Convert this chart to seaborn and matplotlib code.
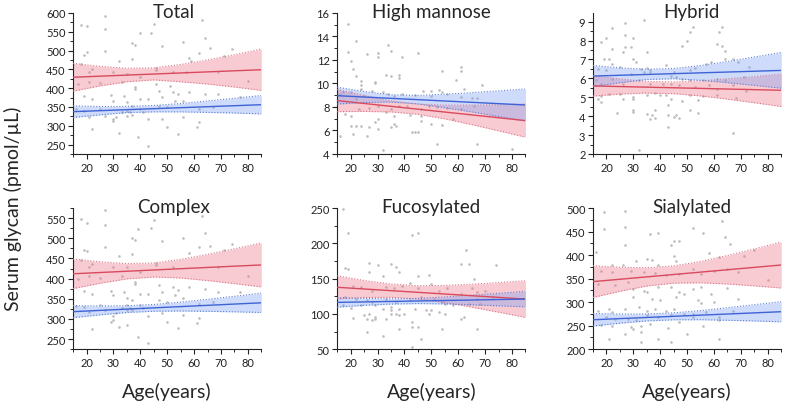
import numpy as np
import pandas as pd
import matplotlib
matplotlib.use("Agg")
import matplotlib.pyplot as plt
from matplotlib.ticker import MultipleLocator
import seaborn as sns

# =========================================================
# DATA
# =========================================================

# ages at which the fitted lines and confidence bands were read
LINE_AGES = [15, 85]
BAND_AGES = [15, 25, 35, 45, 55, 65, 75, 85]

# ---------------- Total ----------------
TOTAL_AGE = [18, 20, 27, 27, 45, 44, 63, 40, 37, 38,
             48, 56, 64, 27, 20, 19, 37, 32, 58, 62,
             66, 74, 59, 71, 18, 22, 21, 30, 35, 40,
             46, 46, 52, 57, 69, 80, 17, 21, 25, 33,
             38, 38, 46, 51, 47, 52, 54, 58, 64, 69,
             77, 19, 22, 29, 30, 34, 35, 37, 40, 43,
             48, 53, 56, 47, 50, 62, 67, 16, 19, 21,
             25, 27, 30, 31, 30, 33, 35, 35, 36, 37,
             40, 41, 43, 48, 50, 56, 62, 61, 22, 32,
             39, 43, 54]
TOTAL_VAL = [568, 565, 591, 556, 571, 547, 580, 547, 520, 515,
             513, 522, 533, 499, 495, 488, 478, 471, 479, 493,
             506, 504, 471, 486, 464, 451, 442, 442, 438, 429,
             453, 447, 442, 442, 442, 420, 411, 417, 414, 417,
             402, 398, 411, 407, 393, 389, 384, 389, 384, 384,
             376, 378, 371, 382, 367, 378, 362, 353, 371, 371,
             376, 367, 367, 353, 349, 345, 349, 345, 340, 322,
             345, 327, 318, 322, 314, 336, 340, 327, 336, 329,
             345, 336, 318, 318, 296, 322, 309, 296, 291, 281,
             269, 247, 278]
TOTAL_RED_LINE = [429, 449]
TOTAL_RED_LO = [392, 406, 417, 422, 417, 411, 403, 394]
TOTAL_RED_HI = [466, 458, 453, 454, 463, 475, 489, 504]
TOTAL_BLUE_LINE = [337.5, 356]
TOTAL_BLUE_LO = [322, 329, 335, 337, 337, 335.5, 334, 331.5]
TOTAL_BLUE_HI = [353, 351, 351.5, 354, 359, 366, 373, 380.5]

# ---------------- High mannose ----------------
HM_AGE = [19, 22, 19, 20, 34, 35, 26, 30, 30, 39,
          45, 21, 22, 24, 24, 29, 29, 33, 35, 38,
          38, 54, 61, 61, 59, 69, 16, 17, 20, 24,
          28, 32, 34, 36, 39, 44, 47, 50, 53, 54,
          62, 65, 67, 61, 50, 56, 22, 25, 18, 20,
          23, 27, 30, 35, 38, 41, 46, 49, 52, 56,
          61, 66, 33, 36, 42, 46, 46, 29, 30, 36,
          37, 20, 22, 24, 27, 35, 30, 21, 26, 44,
          43, 45, 50, 54, 58, 16, 52, 67, 80, 32]
HM_VAL = [15.06, 13.65, 12.65, 11.94, 13.28, 12.79, 12.51, 12.57, 12.28, 12.23,
          12.57, 11.23, 10.67, 10.24, 9.87, 10.16, 10.04, 10.72, 10.67, 10.72,
          10.44, 11.09, 11.38, 11.09, 10.30, 9.87, 9.11, 9.25, 9.30, 9.53,
          9.39, 9.25, 9.11, 8.91, 9.11, 9.02, 9.36, 9.39, 9.45, 9.25,
          9.53, 8.74, 8.74, 8.82, 8.96, 9.11, 8.68, 8.91, 7.40, 7.26,
          7.83, 7.89, 8.11, 7.83, 8.06, 8.11, 7.83, 8.11, 7.97, 7.89,
          7.83, 8.06, 7.55, 7.26, 7.32, 7.26, 6.84, 6.70, 6.98, 6.55,
          6.41, 6.41, 6.41, 6.41, 6.27, 6.27, 6.13, 5.70, 5.56, 5.90,
          5.84, 5.90, 6.55, 6.47, 6.98, 5.56, 4.85, 4.85, 4.43, 4.37]
HM_RED_LINE = [8.54, 6.84]
HM_RED_LO = [7.60, 7.62, 7.58, 7.38, 6.99, 6.50, 5.97, 5.43]
HM_RED_HI = [9.48, 8.98, 8.52, 8.24, 8.15, 8.16, 8.19, 8.25]
HM_BLUE_LINE = [8.96, 8.17]
HM_BLUE_LO = [8.25, 8.38, 8.42, 8.26, 7.94, 7.58, 7.19, 6.81]
HM_BLUE_HI = [9.68, 9.32, 9.04, 8.98, 9.08, 9.22, 9.37, 9.53]

# ---------------- Hybrid ----------------
HYB_AGE = [27, 34, 22, 27, 20, 18, 30, 52, 51, 50,
           48, 62, 63, 61, 63, 64, 22, 27, 29, 26,
           35, 19, 21, 22, 30, 31, 35, 36, 42, 45,
           44, 51, 53, 57, 59, 64, 67, 69, 73, 17,
           20, 25, 29, 33, 34, 36, 46, 48, 51, 56,
           61, 64, 71, 16, 18, 22, 26, 32, 36, 41,
           44, 47, 53, 58, 61, 67, 72, 18, 21, 25,
           30, 35, 38, 40, 42, 51, 56, 61, 18, 17,
           26, 30, 44, 48, 54, 68, 24, 30, 30, 35,
           38, 37, 38, 43, 43, 45, 46, 47, 51, 54,
           36, 43, 67, 32]
HYB_VAL = [8.93, 9.10, 8.65, 8.30, 8.12, 7.91, 8.12, 8.70, 8.44, 8.00,
           7.70, 8.44, 8.70, 7.82, 7.70, 7.47, 7.53, 7.65, 7.65, 7.42,
           7.39, 7.04, 7.04, 6.77, 7.00, 6.89, 6.54, 6.33, 6.72, 6.33,
           6.12, 6.42, 6.54, 6.77, 6.89, 7.04, 7.04, 6.86, 6.60, 6.51,
           6.42, 6.60, 6.25, 6.51, 6.33, 6.42, 6.07, 5.98, 5.89, 5.89,
           5.98, 5.89, 6.07, 5.89, 5.72, 5.98, 5.72, 5.89, 5.72, 5.72,
           5.72, 5.63, 5.54, 5.63, 5.46, 5.63, 5.32, 5.07, 5.19, 5.19,
           5.02, 5.14, 5.25, 5.14, 5.14, 5.14, 5.07, 5.11, 4.75, 4.93,
           4.89, 4.93, 4.89, 4.79, 4.84, 4.96, 4.19, 4.32, 4.23, 4.14,
           4.32, 4.05, 3.88, 4.61, 4.05, 3.96, 4.05, 3.88, 4.32, 4.19,
           3.84, 3.44, 3.09, 2.21]
HYB_RED_LINE = [5.60, 5.37]
HYB_RED_LO = [5.06, 5.17, 5.22, 5.19, 5.07, 4.90, 4.71, 4.51]
HYB_RED_HI = [6.14, 5.97, 5.84, 5.81, 5.87, 5.98, 6.09, 6.23]
HYB_BLUE_LINE = [6.12, 6.42]
HYB_BLUE_LO = [5.56, 5.77, 5.94, 5.98, 5.90, 5.77, 5.63, 5.48]
HYB_BLUE_HI = [6.68, 6.55, 6.48, 6.52, 6.68, 6.89, 7.13, 7.37]

# ---------------- Complex ----------------
CPX_AGE = [18, 20, 27, 27, 45, 44, 63, 39, 37, 38,
           48, 56, 64, 27, 19, 20, 37, 32, 58, 62,
           66, 74, 71, 18, 22, 21, 30, 35, 40, 46,
           46, 52, 69, 80, 17, 21, 25, 33, 38, 38,
           47, 52, 54, 58, 64, 69, 77, 19, 22, 29,
           30, 34, 35, 37, 40, 43, 48, 53, 56, 47,
           50, 62, 67, 16, 19, 21, 25, 27, 30, 31,
           30, 33, 35, 35, 36, 37, 40, 41, 43, 48,
           50, 56, 62, 61, 22, 32, 39, 43, 54, 29,
           35]
CPX_VAL = [548, 538, 570, 534, 545, 525, 556, 523, 502, 496,
           493, 502, 512, 479, 470, 468, 461, 455, 463, 478,
           482, 486, 470, 447, 437, 429, 429, 429, 416, 438,
           433, 429, 429, 406, 400, 406, 402, 406, 392, 386,
           384, 379, 373, 379, 375, 367, 367, 370, 363, 370,
           359, 367, 353, 347, 363, 363, 367, 359, 351, 347,
           343, 338, 343, 332, 330, 318, 334, 322, 306, 314,
           297, 326, 334, 322, 326, 322, 334, 326, 306, 314,
           293, 310, 302, 289, 274, 279, 256, 240, 277, 293,
           285]
CPX_RED_LINE = [412, 434]
CPX_RED_LO = [375.3, 388.5, 399.3, 404.0, 401.5, 395.2, 387.7, 379.5]
CPX_RED_HI = [448.7, 441.7, 437.3, 438.8, 447.7, 460.2, 474.1, 488.5]
CPX_BLUE_LINE = [318, 340]
CPX_BLUE_LO = [303.1, 310.1, 315.9, 319.0, 319.6, 318.8, 317.6, 316.0]
CPX_BLUE_HI = [332.9, 332.1, 332.7, 335.8, 341.6, 348.6, 356.2, 364.0]

# ---------------- Fucosylated ----------------
FUC_AGE = [17, 19, 43, 45, 18, 19, 27, 30, 35, 37,
           27, 32, 38, 42, 45, 49, 63, 61, 64, 74,
           66, 21, 24, 28, 33, 36, 39, 45, 50, 53,
           56, 61, 65, 67, 70, 18, 22, 26, 28, 33,
           37, 42, 46, 51, 54, 55, 67, 73, 17, 20,
           24, 29, 32, 35, 38, 44, 48, 53, 58, 64,
           68, 25, 26, 27, 29, 33, 35, 35, 37, 38,
           40, 49, 50, 55, 61, 62, 21, 28, 29, 43,
           45, 38, 26, 43, 54, 67, 32, 46, 43]
FUC_VAL = [249, 215, 212, 214, 165, 164, 172, 169, 171, 166,
           159, 154, 159, 144, 154, 155, 191, 171, 171, 169,
           149, 140, 138, 133, 138, 136, 140, 137, 143, 133,
           136, 128, 137, 131, 133, 124, 121, 119, 117, 121,
           117, 119, 124, 121, 117, 114, 121, 124, 112, 108,
           112, 112, 107, 110, 107, 107, 105, 102, 112, 114,
           114, 98, 93, 100, 95, 93, 105, 100, 100, 98,
           100, 100, 105, 100, 93, 95, 94, 91, 93, 88,
           81, 79, 75, 81, 79, 78, 69, 65, 53]
FUC_RED_LINE = [137.7, 121]
FUC_RED_LO = [121.4, 123.2, 123.5, 121.1, 116.1, 109.5, 102.4, 95.0]
FUC_RED_HI = [154.0, 147.4, 142.3, 139.9, 140.3, 142.1, 144.4, 147.0]
FUC_BLUE_LINE = [116.3, 121]
FUC_BLUE_LO = [109.5, 112.1, 113.9, 114.6, 114.1, 112.9, 111.5, 110.0]
FUC_BLUE_HI = [123.1, 121.9, 121.3, 122.0, 123.9, 126.5, 129.1, 132.0]

# ---------------- Sialylated ----------------
SIA_AGE = [19, 27, 19, 27, 36, 39, 52, 56, 63, 64,
           27, 45, 47, 44, 66, 16, 22, 26, 31, 35,
           37, 39, 45, 46, 58, 62, 71, 75, 80, 18,
           22, 29, 34, 38, 42, 47, 52, 55, 60, 65,
           69, 17, 23, 28, 30, 34, 35, 39, 44, 47,
           52, 55, 59, 65, 69, 30, 37, 40, 46, 49,
           54, 55, 60, 17, 21, 22, 27, 32, 35, 38,
           42, 45, 49, 52, 57, 62, 67, 20, 23, 28,
           31, 35, 39, 44, 52, 18, 22, 29, 30, 33,
           36, 43, 47, 56, 62, 21, 27, 33, 39, 44,
           50, 62, 33]
SIA_VAL = [491, 493, 456, 460, 445, 448, 457, 448, 472, 438,
           421, 429, 431, 421, 424, 406, 379, 378, 387, 392,
           389, 378, 399, 387, 405, 396, 398, 410, 348, 367,
           364, 367, 364, 362, 357, 360, 371, 360, 367, 371,
           364, 339, 336, 343, 328, 323, 321, 332, 332, 321,
           328, 332, 318, 330, 307, 311, 307, 304, 311, 318,
           304, 299, 300, 282, 286, 279, 286, 289, 282, 286,
           282, 286, 275, 275, 279, 268, 282, 268, 265, 265,
           261, 272, 268, 272, 268, 252, 250, 247, 243, 249,
           254, 245, 258, 250, 261, 221, 233, 236, 222, 215,
           233, 222, 215]
SIA_RED_LINE = [343.6, 379]
SIA_RED_LO = [309.8, 323.2, 334.2, 340.5, 341.1, 338.6, 334.6, 330.0]
SIA_RED_HI = [377.4, 374.2, 373.2, 377.1, 386.5, 399.2, 413.2, 428.0]
SIA_BLUE_LINE = [262.5, 279.6]
SIA_BLUE_LO = [249.2, 255.2, 260.0, 262.4, 262.6, 261.4, 259.9, 258.1]
SIA_BLUE_HI = [275.8, 274.6, 274.8, 277.2, 282.0, 288.0, 294.5, 301.1]

TITLES = ["Total", "High mannose", "Hybrid", "Complex", "Fucosylated", "Sialylated"]

# =========================================================
# PANEL SETUP
# =========================================================

panels = [
    (TOTAL_AGE, TOTAL_VAL, TOTAL_RED_LINE, TOTAL_RED_LO, TOTAL_RED_HI,
     TOTAL_BLUE_LINE, TOTAL_BLUE_LO, TOTAL_BLUE_HI, (225, 600), 50, 25),
    (HM_AGE, HM_VAL, HM_RED_LINE, HM_RED_LO, HM_RED_HI,
     HM_BLUE_LINE, HM_BLUE_LO, HM_BLUE_HI, (4, 16), 2, 1),
    (HYB_AGE, HYB_VAL, HYB_RED_LINE, HYB_RED_LO, HYB_RED_HI,
     HYB_BLUE_LINE, HYB_BLUE_LO, HYB_BLUE_HI, (2, 9.46), 1, 0.5),
    (CPX_AGE, CPX_VAL, CPX_RED_LINE, CPX_RED_LO, CPX_RED_HI,
     CPX_BLUE_LINE, CPX_BLUE_LO, CPX_BLUE_HI, (225, 575), 50, 25),
    (FUC_AGE, FUC_VAL, FUC_RED_LINE, FUC_RED_LO, FUC_RED_HI,
     FUC_BLUE_LINE, FUC_BLUE_LO, FUC_BLUE_HI, (50, 250), 50, 25),
    (SIA_AGE, SIA_VAL, SIA_RED_LINE, SIA_RED_LO, SIA_RED_HI,
     SIA_BLUE_LINE, SIA_BLUE_LO, SIA_BLUE_HI, (200, 500), 50, 25),
]

# axes boxes in figure fractions
COL_LEFT = [0.093, 0.429, 0.7545]
COL_WIDTH = 0.2395
ROW_BOTTOM = [0.622, 0.146]
ROW_HEIGHT = 0.344
TITLE_X = [0.535, 0.5, 0.525]

RED_FILL = "#ee768a"
RED_EDGE = "#d9788a"
RED_LINE = "#d94a5e"
BLUE_FILL = "#7ea1f2"
BLUE_EDGE = "#5d7fd6"
BLUE_LINE = "#3f63d6"
POINT_COLOR = "#bcbcbc"

sns.set_style("ticks")
plt.rcParams["font.family"] = ["Lato", "DejaVu Sans"]

fig = plt.figure(figsize=(7.86, 4.10), dpi=100)

for i, (ages, vals, r_line, r_lo, r_hi, b_line, b_lo, b_hi,
        ylim, ymaj, ymin) in enumerate(panels):

    row, col = divmod(i, 3)
    ax = fig.add_axes([COL_LEFT[col], ROW_BOTTOM[row], COL_WIDTH, ROW_HEIGHT])

    df = pd.DataFrame({"age": ages, "value": vals})
    sns.scatterplot(data=df, x="age", y="value", ax=ax, s=3.5,
                    color=POINT_COLOR, linewidth=0, zorder=1)

    for line, lo, hi, fill, edge, lc in [
        (r_line, r_lo, r_hi, RED_FILL, RED_EDGE, RED_LINE),
        (b_line, b_lo, b_hi, BLUE_FILL, BLUE_EDGE, BLUE_LINE),
    ]:
        ax.fill_between(BAND_AGES, lo, hi, color=fill, alpha=0.38,
                        linewidth=0, zorder=2)
        sns.lineplot(x=BAND_AGES, y=lo, ax=ax, color=edge, lw=0.8,
                     linestyle=(0, (1, 1.6)), zorder=3)
        sns.lineplot(x=BAND_AGES, y=hi, ax=ax, color=edge, lw=0.8,
                     linestyle=(0, (1, 1.6)), zorder=3)
        sns.lineplot(x=LINE_AGES, y=line, ax=ax, color=lc, lw=1.0, zorder=4)

    ax.set_xlim(15, 85)
    ax.set_ylim(*ylim)
    ax.xaxis.set_major_locator(MultipleLocator(10))
    ax.xaxis.set_minor_locator(MultipleLocator(5))
    ax.yaxis.set_major_locator(MultipleLocator(ymaj))
    ax.yaxis.set_minor_locator(MultipleLocator(ymin))
    ax.tick_params(which="major", direction="out", length=3.5, width=0.8,
                   labelsize=8, pad=2, colors="#222222")
    ax.tick_params(which="minor", direction="out", length=2, width=0.7)
    ax.set_xlabel("")
    ax.set_ylabel("")
    sns.despine(ax=ax)
    for s in ["left", "bottom"]:
        ax.spines[s].set_linewidth(0.8)
        ax.spines[s].set_color("#222222")

    ax.text(TITLE_X[col], 0.972, TITLES[i], transform=ax.transAxes,
            ha="center", va="baseline", fontsize=13.5, zorder=5)

# shared labels
fig.text(0.017, 0.49, "Serum glycan (pmol/µL)", rotation=90,
         ha="center", va="center", fontsize=14)
for col in range(3):
    fig.text(COL_LEFT[col] + COL_WIDTH / 2, 0.045, "Age(years)",
             ha="center", va="center", fontsize=14)

fig.savefig("out.png", dpi=100)
